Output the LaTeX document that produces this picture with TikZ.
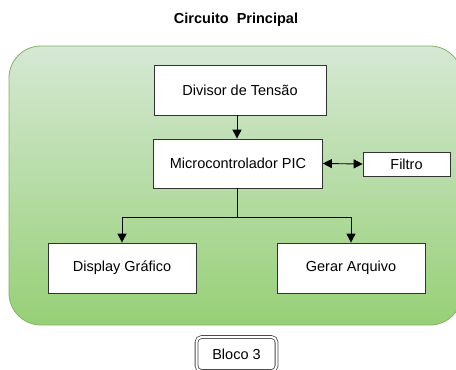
\documentclass[tikz,border=0pt]{standalone}
\usepackage{fontspec}
\setmainfont{Liberation Sans}
\usetikzlibrary{arrows.meta}
\begin{document}
\begin{tikzpicture}[x=1pt,y=-1pt,
  blk/.style={draw=black!80, fill=white, line width=0.8pt, minimum width=#1, minimum height=50pt, inner sep=0pt, font=\fontsize{14.5}{17}\selectfont},
  blk/.default=170pt,
  conn/.style={line width=0.9pt, -{Triangle[width=9pt,length=9pt]}},
  biconn/.style={line width=0.9pt, {Triangle[width=9pt,length=9pt]}-{Triangle[width=9pt,length=9pt]}}]
\useasboundingbox (0,0) rectangle (456,370);
\shade[top color={rgb,255:red,213;green,232;blue,212}, bottom color={rgb,255:red,151;green,208;blue,119}, rounded corners=32pt] (9,46) rectangle (462,325);
\draw[draw={rgb,255:red,130;green,179;blue,102}, line width=0.8pt, rounded corners=32pt] (9,46) rectangle (462,325);
\node[font=\bfseries\fontsize{14.5}{17}\selectfont] (title) at (236,20) {Circuito\ \ Principal};
\node[blk=172pt, minimum height=50pt] (div) at (240,90) {Divisor de Tensão};
\node[blk=169pt, minimum height=49pt] (pic) at (238,163.5) {Microcontrolador PIC};
\node[blk=87pt, minimum height=24pt] (fil) at (406.5,164) {Filtro};
\node[blk=148pt, minimum height=50pt] (dis) at (122,268) {Display Gráfico};
\node[blk=148pt, minimum height=50pt] (ger) at (351,268) {Gerar Arquivo};
\node[draw=black!70, double=white, double distance=2pt, line width=0.8pt, rounded corners=5pt, fill=white, minimum width=80pt, minimum height=34pt, inner sep=0pt, font=\fontsize{14.5}{17}\selectfont] (blo) at (236.5,354) {Bloco 3};
\coordinate (split) at (237,217);
\draw[conn] (div.south -| split) -- (pic.north -| split);
\draw[biconn] (pic.east) -- (fil.west);
\draw[line width=0.9pt] (pic.south -| split) -- (split);
\draw[conn] (split) -| (dis.north);
\draw[conn] (split) -| (ger.north);
\end{tikzpicture}
\end{document}
